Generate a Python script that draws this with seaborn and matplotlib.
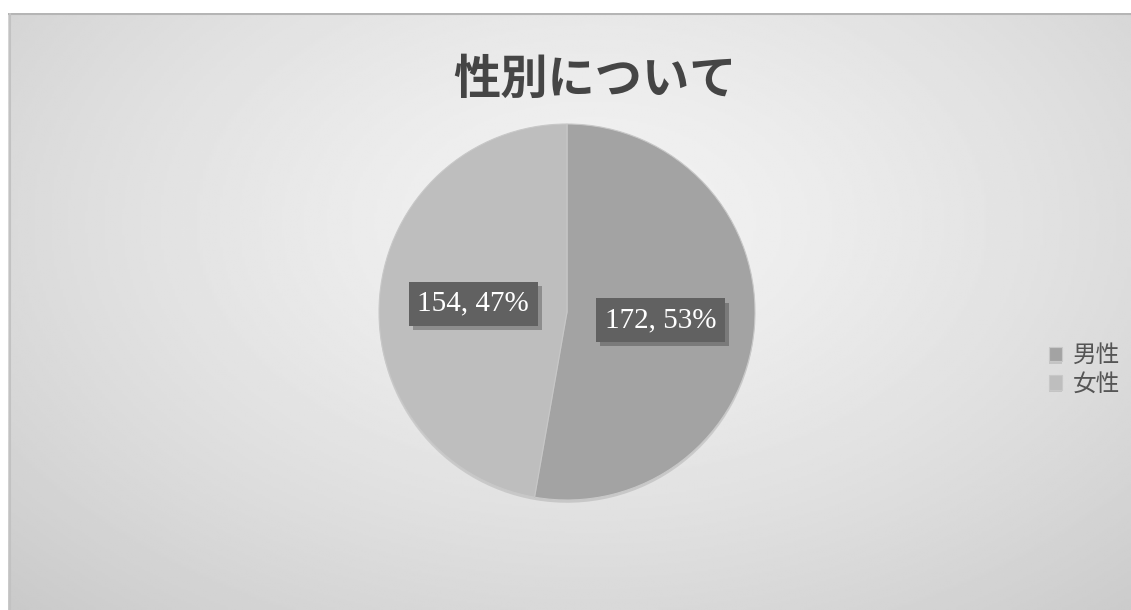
import numpy as np
import matplotlib
matplotlib.use("Agg")
import matplotlib.pyplot as plt
import matplotlib.patheffects as pe
import seaborn as sns

# Survey answers by gender
categories = ["男性", "女性"]
counts = [172, 154]
title = "性別について"

sns.set_theme(style="white")
plt.rcParams["font.family"] = ["Noto Sans CJK JP", "DejaVu Sans"]

W, H = 1131, 610
fig = plt.figure(figsize=(W / 100, H / 100), dpi=100)
fig.patch.set_facecolor("white")

# Chart area background with a soft radial gradient
x0, y0 = 8, 13
bg = fig.add_axes([x0 / W, 0, 1 - x0 / W, (H - y0) / H])
gx, gy = np.meshgrid(np.linspace(0, 1, 400), np.linspace(0, 1, 300))
d = np.sqrt(((gx - 0.52) / 0.75) ** 2 + ((gy - 0.35) / 0.9) ** 2)
shade = np.clip(0.95 - 0.16 * d ** 1.4, 0.78, 0.955)
bg.imshow(shade, cmap="gray", vmin=0, vmax=1, extent=[0, 1, 1, 0], aspect="auto")
bg.set_xlim(0, 1)
bg.set_ylim(1, 0)
bg.axis("off")
bg.plot([0, 1], [0.002, 0.002], color="#b5b5b5", lw=1.5)
bg.plot([0.0015, 0.0015], [0, 1], color="#c2c2c2", lw=1.5)

fig.text(595 / W, 1 - 80 / H, title, ha="center", va="center",
         fontsize=34, fontweight="bold", color="#454545")

# Pie
cx, cy, r = 567, 312, 188
ax = fig.add_axes([(cx - r) / W, (H - cy - r) / H, 2 * r / W, 2 * r / H])
colors = ["#a3a3a3", "#bebebe"]
total = sum(counts)
wedges, texts, autotexts = ax.pie(
    counts, colors=colors, startangle=90, counterclock=False,
    autopct=lambda p: f"{round(p * total / 100)}, {p:.0f}%",
    pctdistance=0.5, radius=1,
    wedgeprops=dict(linewidth=0.8, edgecolor="#c8c8c8"),
    textprops=dict(color="white", fontsize=21, family="Liberation Serif"),
)
for w in wedges:
    w.set_path_effects([pe.SimplePatchShadow(offset=(0, -2), alpha=0.15), pe.Normal()])
for t in autotexts:
    t.set_bbox(dict(boxstyle="square,pad=0.3", facecolor="#616161", edgecolor="none"))
    t.get_bbox_patch().set_path_effects(
        [pe.SimplePatchShadow(offset=(3, -3), alpha=0.3), pe.Normal()])
ax.set_xlim(-1, 1)
ax.set_ylim(-1, 1)
ax.set_aspect("equal")
ax.axis("off")

fig.legend(wedges, categories, loc="center left",
           bbox_to_anchor=(1028 / W, 1 - 370 / H), frameon=False,
           fontsize=17, handlelength=0.55, handleheight=0.55, handletextpad=0.45,
           labelspacing=0.25, labelcolor="#555555")

fig.savefig("out.png", dpi=100)
